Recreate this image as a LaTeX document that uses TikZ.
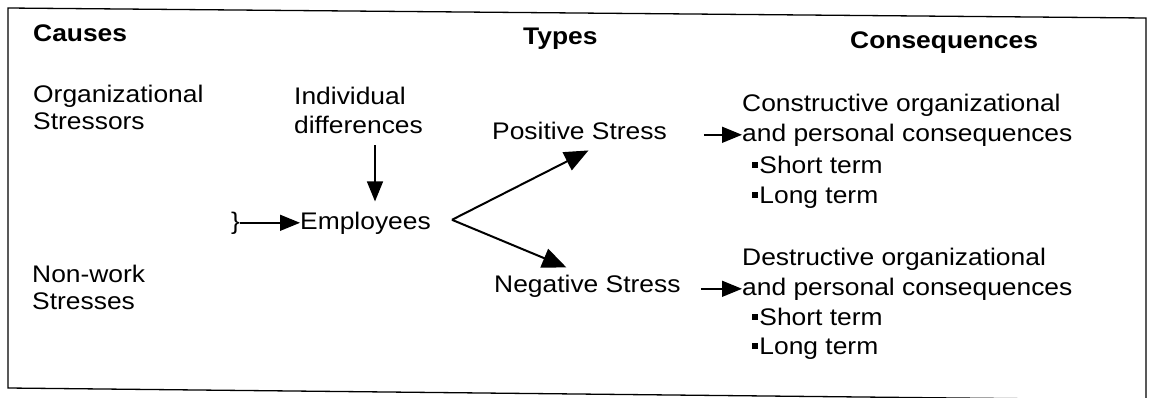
\documentclass[tikz,border=0pt]{standalone}
\usepackage{fontspec}
\setmainfont[FakeStretch=1.1]{Liberation Sans}
\usetikzlibrary{arrows.meta}
\tikzset{
  txt/.style={anchor=base west, inner sep=0pt, font=\fontsize{24}{28}\selectfont},
  hdr/.style={txt, font=\fontsize{24}{28}\selectfont\bfseries},
  arr/.style={line width=1.5pt, -{Triangle[length=20pt,width=16pt]}},
  diag/.style={line width=2pt, -{Triangle[length=24pt,width=20pt]}},
  frame/.style={line width=1.3pt}
}
\newcommand{\sqbul}{\rule[0.2em]{0.26em}{0.26em}\kern1pt}
\begin{document}
\begin{tikzpicture}[x=1pt,y=-1pt]
\useasboundingbox (0,0) rectangle (1149,397);
\draw[frame] (8,8) -- (1146,18) -- (1146,400) -- (8,388) -- cycle;
% headers
\node[hdr] (causes) at (33,41) {Causes};
\node[hdr] (types) at (523,44) {Types};
\node[hdr] (conseq) at (850,48) {Consequences};
% causes
\node[txt] (org1) at (33,102) {Organizational};
\node[txt] (org2) at (33,129) {Stressors};
\node[txt] (non1) at (32,282) {Non-work};
\node[txt] (non2) at (32,309) {Stresses};
% individual differences
\node[txt] (ind1) at (294,104) {Individual};
\node[txt] (ind2) at (294,133) {differences};
% employees
\node[txt] (brace) at (231,229) {\}};
\node[txt] (emp) at (300,229) {Employees};
% types
\node[txt] (pos) at (492,139) {Positive Stress};
\node[txt] (neg) at (494,292) {Negative Stress};
% consequences
\node[txt] (c1) at (742,111) {Constructive organizational};
\node[txt] (c2) at (742,141) {and personal consequences};
\node[txt] (c3) at (752,173) {\sqbul Short term};
\node[txt] (c4) at (752,203) {\sqbul Long term};
\node[txt] (d1) at (742,265) {Destructive organizational};
\node[txt] (d2) at (742,295) {and personal consequences};
\node[txt] (d3) at (752,325) {\sqbul Short term};
\node[txt] (d4) at (752,354) {\sqbul Long term};
% connectors
\coordinate (ax) at (375,0);
\draw[arr] ([yshift=-12pt]ind2.south -| ax) -- ([yshift=10pt]emp.north -| ax);
\draw[arr] (brace.east) -- (brace.east -| emp.west);
\coordinate (apex) at ([xshift=21pt,yshift=3pt]emp.east);
\draw[diag] (apex) -- ([xshift=9pt,yshift=-11pt]pos.south);
\draw[diag] (apex) -- ([xshift=-21pt,yshift=7pt]neg.north);
\coordinate (s1) at ([xshift=37pt]pos.east);
\coordinate (s2) at ([xshift=20pt]neg.east);
\draw[arr] (s1 |- c2.west) -- (c2.west);
\draw[arr] (s2 |- d2.west) -- (d2.west);
\end{tikzpicture}
\end{document}
